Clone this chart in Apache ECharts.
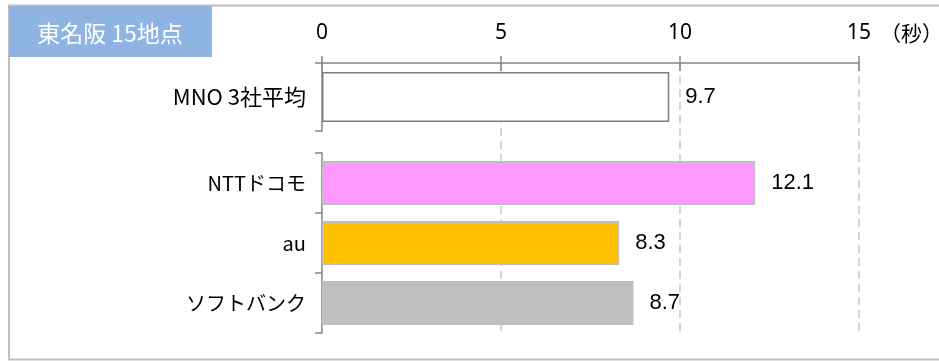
<!DOCTYPE html>
<html>
<head>
<meta charset="utf-8">
<script src="https://cdn.jsdelivr.net/npm/echarts@6/dist/echarts.min.js"></script>
<style>
html,body{margin:0;padding:0;background:#fff;}
#c{width:939px;height:361px;}
</style>
</head>
<body>
<div id="c"></div>
<script>
// ---- data ----
var titleText = '東名阪 15地点';
var unitText = '（秒）';
var avgCategories = ['MNO 3社平均'];
var avgValues = [9.7];
var carrierCategories = ['NTTドコモ', 'au', 'ソフトバンク'];
var carrierValues = [12.1, 8.3, 8.7];
var xMin = 0, xMax = 15, xInterval = 5;

// ---- styles ----
var carrierColors = ['#FF99FF', '#FFC000', '#BFBFBF'];
var jp = '"Noto Sans CJK JP", "Noto Sans", sans-serif';
var num = '"Liberation Sans", Arial, sans-serif';
var tickFont = '"Noto Sans", "Open Sans", sans-serif';
var axisGray = '#868686';

var chart = echarts.init(document.getElementById('c'), null, {renderer: 'canvas'});

function valueLabel() {
  return {
    show: true, position: 'right', distance: 16,
    fontFamily: num, fontSize: 22, color: '#000',
    formatter: function (p) { return p.value.toFixed(1); }
  };
}

var option = {
  animation: false,
  backgroundColor: '#fff',
  grid: [
    {left: 322, top: 63, width: 537, height: 68},
    {left: 322, top: 153, width: 537, height: 180},
    {left: 322, top: 63, width: 537, height: 270}
  ],
  xAxis: [
    {
      gridIndex: 0, type: 'value', position: 'top', min: xMin, max: xMax, interval: xInterval,
      axisLine: {show: true, lineStyle: {color: axisGray, width: 1.5}},
      axisTick: {show: true, length: 7, lineStyle: {color: axisGray, width: 1.5}},
      axisLabel: {show: true, fontFamily: tickFont, fontSize: 21, color: '#000', margin: 19},
      splitLine: {show: false}
    },
    {
      gridIndex: 0, type: 'value', position: 'top', min: xMin, max: xMax, interval: xInterval,
      axisLine: {show: false},
      axisTick: {show: true, inside: true, length: 8, lineStyle: {color: axisGray, width: 1.5}},
      axisLabel: {show: false},
      splitLine: {show: false}
    },
    {
      gridIndex: 1, type: 'value', min: xMin, max: xMax, interval: xInterval, show: false
    },
    {
      gridIndex: 2, type: 'value', min: xMin, max: xMax, interval: xInterval,
      axisLine: {show: false}, axisTick: {show: false}, axisLabel: {show: false},
      splitLine: {show: true, lineStyle: {color: ['rgba(0,0,0,0)', '#C8C8C8', '#C8C8C8', '#C8C8C8'], width: 1.5, type: [8, 5]}}
    }
  ],
  yAxis: [
    {
      gridIndex: 0, type: 'category', data: avgCategories,
      axisLine: {show: true, lineStyle: {color: axisGray, width: 1.5}},
      axisTick: {show: true, length: 7, lineStyle: {color: axisGray, width: 1.5}},
      axisLabel: {fontFamily: jp, fontSize: 22, color: '#000', margin: 16},
      splitLine: {show: false}
    },
    {
      gridIndex: 1, type: 'category', data: carrierCategories, inverse: true,
      axisLine: {show: true, lineStyle: {color: axisGray, width: 1.5}},
      axisTick: {show: true, length: 7, lineStyle: {color: axisGray, width: 1.5}},
      axisLabel: {fontFamily: jp, fontSize: 20, color: '#000', margin: 16},
      splitLine: {show: false}
    },
    {
      gridIndex: 2, type: 'category', data: [''], show: false
    }
  ],
  series: [
    {
      type: 'bar', xAxisIndex: 0, yAxisIndex: 0, barWidth: 50,
      data: avgValues,
      itemStyle: {color: '#fff', borderColor: '#7F7F7F', borderWidth: 1.5},
      label: valueLabel(), z: 3
    },
    {
      type: 'bar', xAxisIndex: 2, yAxisIndex: 1, barWidth: 44,
      data: carrierValues.map(function (v, i) {
        return {value: v, itemStyle: {color: carrierColors[i]}};
      }),
      itemStyle: {borderColor: '#BFBFBF', borderWidth: 2},
      label: valueLabel(), z: 3
    }
  ],
  graphic: [
    {
      type: 'rect', z: 0, silent: true,
      shape: {x: 9, y: 5.5, width: 940, height: 354},
      style: {fill: 'none', stroke: '#BFBFBF', lineWidth: 2}
    },
    {
      type: 'rect', z: 10, silent: true,
      shape: {x: 9, y: 6, width: 203, height: 51},
      style: {fill: '#8DB4E2'}
    },
    {
      type: 'text', z: 11, silent: true, x: 110, y: 33,
      style: {text: titleText, fill: '#fff', font: '23px ' + jp, textAlign: 'center', textVerticalAlign: 'middle'}
    },
    {
      type: 'text', z: 11, silent: true, x: 880, y: 33,
      style: {text: unitText, fill: '#000', font: '21px ' + jp, textAlign: 'left', textVerticalAlign: 'middle'}
    }
  ]
};
chart.setOption(option);
</script>
</body>
</html>
